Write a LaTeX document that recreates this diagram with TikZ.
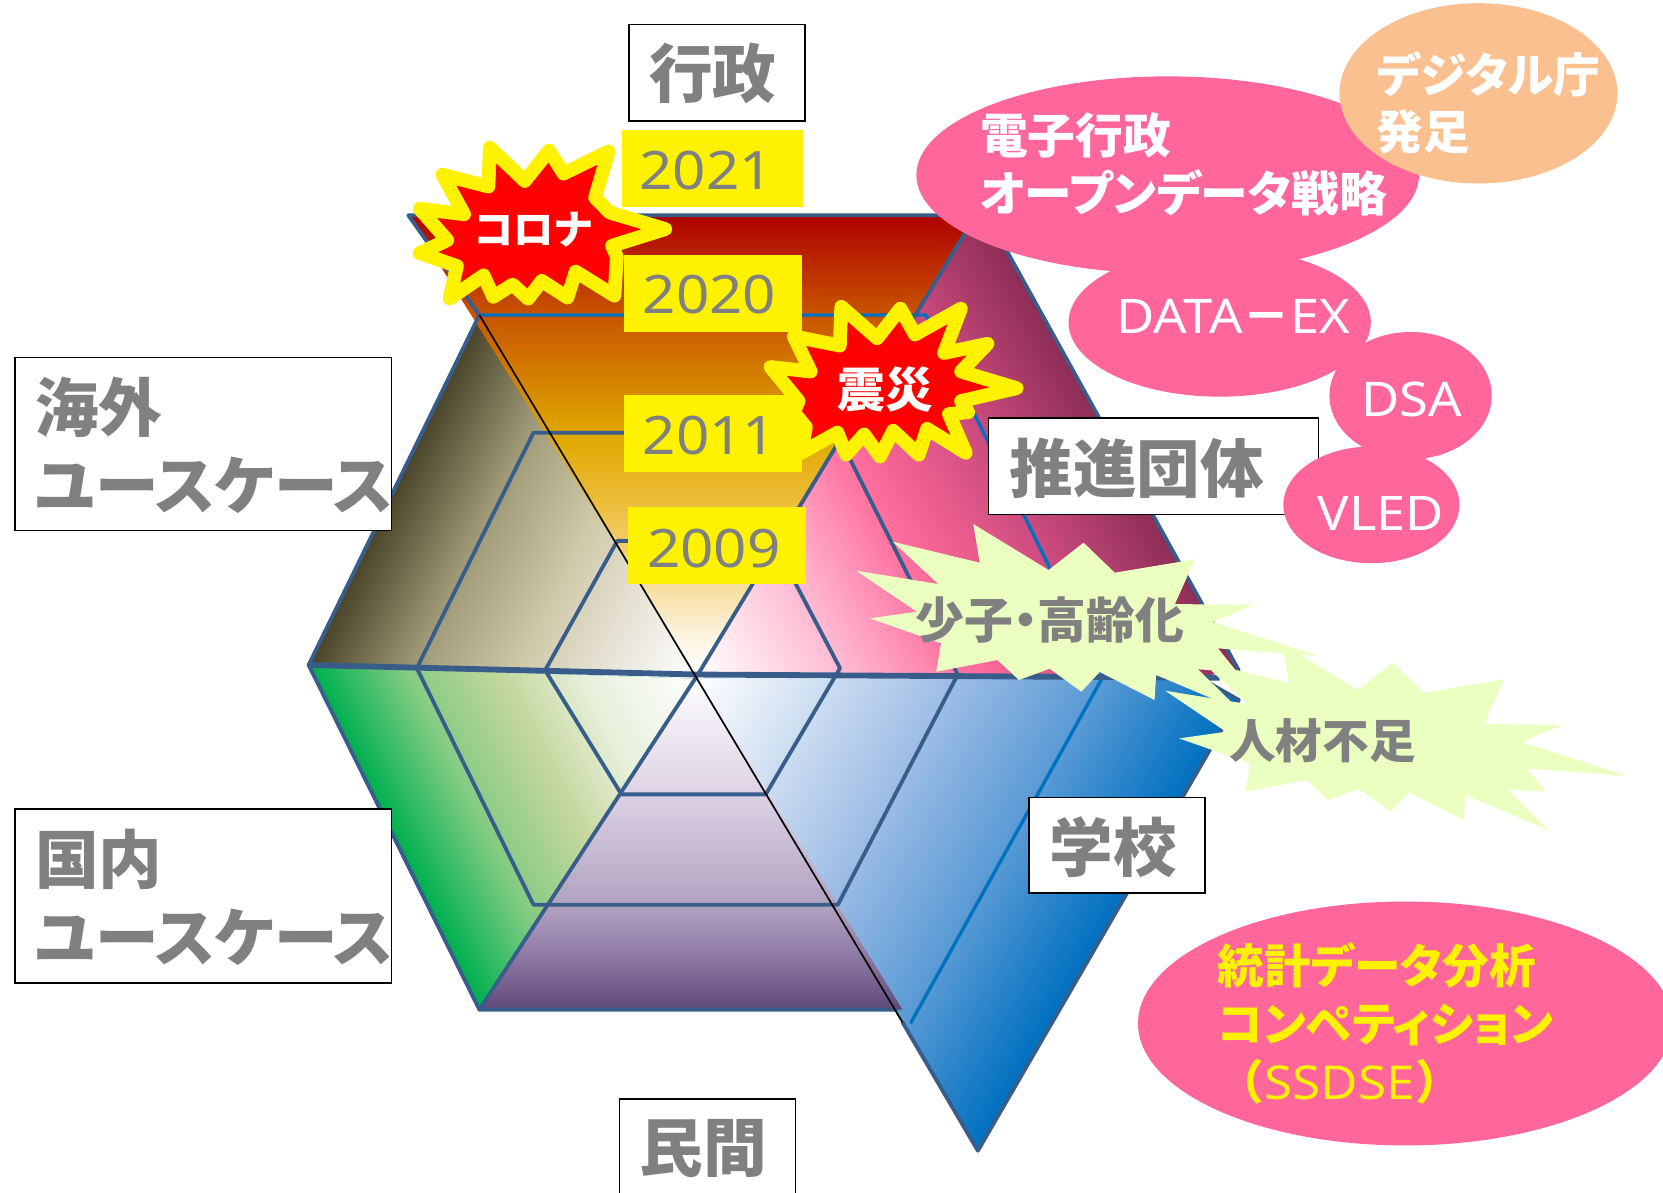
\documentclass[tikz,border=0pt]{standalone}
\usepackage{fontspec}
\newfontfamily\jp{Noto Sans CJK JP}
\newfontfamily\jpp[RawFeature={+palt}]{Noto Sans CJK JP}
\newfontfamily\latn[FakeStretch=1.1]{Noto Sans}
\definecolor{edgeb}{HTML}{385D8A}
\definecolor{edgec}{HTML}{0070C0}
\definecolor{txg}{HTML}{808080}
\definecolor{pk}{HTML}{FF6699}
\definecolor{peach}{HTML}{FAC090}
\definecolor{burstc}{HTML}{EBFFC0}
\definecolor{r1}{HTML}{B00000}\definecolor{r2}{HTML}{C85600}\definecolor{r3}{HTML}{E0A800}\definecolor{r4}{HTML}{ECBC38}\definecolor{r5}{HTML}{F7DC9A}\definecolor{r6}{HTML}{FDF5E2}
\definecolor{u1}{HTML}{604A7B}\definecolor{u2}{HTML}{8D78A3}\definecolor{u3}{HTML}{AF9FBF}\definecolor{u4}{HTML}{DDD3E5}\definecolor{u5}{HTML}{F8F5FA}
\definecolor{b1}{HTML}{E4E0D2}\definecolor{b2}{HTML}{CFC9A9}\definecolor{b3}{HTML}{A09A78}\definecolor{b4}{HTML}{4A452A}
\definecolor{g1}{HTML}{E8F0DC}\definecolor{g2}{HTML}{C3D69B}\definecolor{g3}{HTML}{86CC84}\definecolor{g4}{HTML}{00B050}
\definecolor{l1}{HTML}{D5E3F3}\definecolor{l2}{HTML}{A0BEE6}\definecolor{l3}{HTML}{5B9BD5}\definecolor{l4}{HTML}{0070C0}
\definecolor{p1}{HTML}{FFB5CF}\definecolor{p2}{HTML}{FF6F9F}\definecolor{p3}{HTML}{EE5F90}\definecolor{p4}{HTML}{C4477A}\definecolor{p5}{HTML}{8C2D56}
\pgfdeclareverticalshading{topsh}{100bp}{color(0bp)=(white);color(25bp)=(white);color(29bp)=(r6);color(35bp)=(r5);color(44bp)=(r4);color(51bp)=(r3);color(64bp)=(r2);color(75bp)=(r1);color(100bp)=(r1)}
\pgfdeclareverticalshading{botsh}{100bp}{color(0bp)=(u1);color(25bp)=(u1);color(33bp)=(u2);color(40bp)=(u3);color(58bp)=(u4);color(72bp)=(u5);color(75bp)=(white);color(100bp)=(white)}
\pgfdeclarehorizontalshading{brownsh}{100bp}{color(0bp)=(white);color(25bp)=(white);color(38.5bp)=(b1);color(48bp)=(b2);color(61.5bp)=(b3);color(75bp)=(b4);color(100bp)=(b4)}
\pgfdeclarehorizontalshading{greensh}{100bp}{color(0bp)=(white);color(25bp)=(white);color(40bp)=(g1);color(51bp)=(g2);color(62.5bp)=(g3);color(75bp)=(g4);color(100bp)=(g4)}
\pgfdeclarehorizontalshading{bluesh}{100bp}{color(0bp)=(white);color(25bp)=(white);color(35bp)=(l1);color(48bp)=(l2);color(61.5bp)=(l3);color(75bp)=(l4);color(100bp)=(l4)}
\pgfdeclarehorizontalshading{pinksh}{100bp}{color(0bp)=(white);color(25bp)=(white);color(39.5bp)=(p1);color(50bp)=(p2);color(55bp)=(p3);color(65bp)=(p4);color(75bp)=(p5);color(100bp)=(p5)}
\newcommand{\sidegrad}[3]{\begin{scope}[transform canvas={shift={(658,636)},rotate=#2}]\shade[shading=#1] (0,-800) rectangle (#3,800);\end{scope}}
\newcommand{\cloudpath}{(285,432)--(425,570)--(490,488)--(548,578)--(697,538)--(660,672)--(805,675)--(730,726)--(928,828)--(740,805)--(775,875)--(703,868)--(780,990)--(625,885)--(622,960)--(520,876)--(486,935)--(427,866)--(370,900)--(330,840)--(216,875)--(225,790)--(93,715)--(180,695)--(67,572)--(220,612)--(135,485)--(297,548)--cycle}
\tikzset{
 ringb/.style={draw=edgeb,line width=3.6pt,line join=round,line cap=round},
 ringc/.style={draw=edgec,line width=3.2pt,line join=round,line cap=round},
 yearbox/.style={fill=yellow,draw=none},
 yeartxt/.style={text=txg,font=\fontsize{50}{60}\selectfont\latn\bfseries,inner sep=0pt},
 labelbox/.style={draw=black,fill=white,line width=1.4pt},
 labeltxt/.style={text=txg,font=\fontsize{60}{73}\selectfont\jp\bfseries,inner sep=0pt,align=left},
 bang/.style={fill=red,draw=yellow,line width=13pt,line join=round},
 pinkell/.style={ellipse,fill=pk,draw=none,inner sep=0pt},
}
\usetikzlibrary{shapes.geometric}
\begin{document}
\begin{tikzpicture}[x=1pt,y=-1pt]
\useasboundingbox (0,0) rectangle (1568,1124);
\clip (0,0) rectangle (1568,1124);
\fill[white] (0,0) rectangle (1568,1124);
% named vertices
\coordinate (C) at (658,636);
\coordinate (TL) at (385,203); \coordinate (TR) at (920,203); \coordinate (TRb) at (949,236);
\coordinate (R) at (1168,632); \coordinate (Rb) at (1168,660);
\coordinate (UL) at (452,297); \coordinate (L) at (291,627); \coordinate (LL) at (452,952);
\coordinate (LR) at (851,964); \coordinate (B) at (922,1085);
% sectors
\begin{scope}\clip (L)--(UL)--(C)--cycle; \fill[b4] (L)--(UL)--(C)--cycle; \sidegrad{brownsh}{154}{334} \end{scope}
\begin{scope}\clip (291,628)--(LL)--(658,640)--cycle; \fill[g4] (291,628)--(LL)--(658,640)--cycle; \sidegrad{greensh}{206.6}{324} \end{scope}
\begin{scope}\clip (C)--(TR)--(TRb)--(R)--(1130,638)--cycle; \fill[p5] (C)--(TR)--(TRb)--(R)--(1130,638)--cycle; \sidegrad{pinksh}{29}{448} \end{scope}
\begin{scope}\clip (658,640)--(1133,640)--(Rb)--(B)--cycle; \fill[l4] (658,640)--(1133,640)--(Rb)--(B)--cycle; \sidegrad{bluesh}{-30}{452} \end{scope}
\shade[shading=topsh] (TL)--(TR)--(C)--cycle;
\shade[shading=botsh] (658,640)--(LR|-LL)--(LL)--cycle;
\shade[shading=botsh] (658,640)--(845,952)--(LL)--cycle;
% rings
\draw[ringc] (UL)--(873,297)--(1040,638)--(859,964);
\draw[ringb] (393,630)--(503,408)--(789,408)--(903,636)--(790,853)--(503,853)--cycle;
\draw[ringb] (514,632)--(582,510)--(729,510)--(792,630)--(722,749)--(586,749)--cycle;
% outer edges
\draw[ringb] (TL)--(UL) (UL)--(L)--(LL)--(845,952);
\draw[ringb] (TL)--(TR)--(C)--(LL);
\draw[ringb] (TRb)--(R) (1133,640)--(Rb)--(B)--(LR);
\draw[draw=edgeb,line width=5.5pt,line join=round] (L)--(658,636)--(1150,639);
\draw[black,line width=1.6pt] (UL)--(LR);
% year boxes
\node[yearbox,minimum width=171pt,minimum height=72pt,inner sep=0pt] (y21b) at (671.5,159) {};
\node[yearbox,minimum width=168pt,minimum height=73pt,inner sep=0pt] (y20b) at (672,276.5) {};
\node[yearbox,minimum width=168pt,minimum height=73pt,inner sep=0pt] (y11b) at (672,408.5) {};
\node[yearbox,minimum width=168pt,minimum height=73pt,inner sep=0pt] (y09b) at (676,514.5) {};
\node[yeartxt] (y21) at (666,161) {2021};
\node[yeartxt] (y20) at (669,278) {2020};
\node[yeartxt] (y11) at (669,411) {2011};
\node[yeartxt] (y09) at (673,517) {2009};
% red bursts
\begin{scope}[shift={(264,113.1)},x=.457pt,y=-.3488pt]
\draw[bang] (433,75)--(505,165)--(555,83)--(585,145)--(678,85)--(650,210)--(680,250)--(795,295)--(685,340)--(695,370)--(690,475)--(610,410)--(593,480)--(540,435)--(512,483)--(480,445)--(440,478)--(420,420)--(350,483)--(365,395)--(288,360)--(345,325)--(288,240)--(380,255)--(335,148)--(430,180)--cycle;
\draw[bang] (1158,505)--(1232,590)--(1280,510)--(1310,580)--(1405,510)--(1370,630)--(1460,605)--(1405,680)--(1520,725)--(1405,760)--(1420,790)--(1380,795)--(1415,900)--(1335,835)--(1318,905)--(1265,840)--(1238,910)--(1205,850)--(1168,905)--(1150,845)--(1075,900)--(1085,830)--(1060,790)--(1070,760)--(1012,668)--(1095,680)--(1060,585)--(1155,610)--cycle;
\end{scope}
\node[text=white,font=\fontsize{38}{46}\selectfont\jp\bfseries,inner sep=0pt] (corona) at (503,217) {コロナ};
\node[text=white,font=\fontsize{45}{54}\selectfont\jp\bfseries,inner sep=0pt] (quake) at (835,367) {震災};
% ellipses
\node[pinkell,minimum width=474pt,minimum height=186pt] (e1) at (1101,165) {};
\node[pinkell,minimum width=285pt,minimum height=140pt] (e2) at (1150,304) {};
\node[pinkell,minimum width=153pt,minimum height=120pt] (e3) at (1330,373) {};
\node[ellipse,fill=peach,draw=none,inner sep=0pt,minimum width=262pt,minimum height=170pt] (e0) at (1394,88) {};
\node[pinkell,minimum width=504pt,minimum height=230pt] (e5) at (1325,965) {};
\node[anchor=west,text=white,font=\fontsize{44}{54}\selectfont\jpp\bfseries,inner sep=0pt,align=left] (t0) at (1298,97) {デジタル庁\\発足};
\node[anchor=west,text=white,font=\fontsize{45}{55}\selectfont\jpp\bfseries,inner sep=0pt,align=left] (t1) at (924,155) {電子行政\\オープンデータ戦略};
\node[text=white,font=\fontsize{45}{54}\selectfont\latn\bfseries,inner sep=0pt] (t2) at (1163,298) {DATA{\jpp－}EX};
\node[text=white,font=\fontsize{45}{54}\selectfont\latn\bfseries,inner sep=0pt] (t3) at (1331,377) {DSA};
\node[anchor=west,text=yellow,font=\fontsize{44}{54.5}\selectfont\jpp\bfseries,inner sep=0pt,align=left] (t5) at (1148,965) {統計データ分析\\コンペティション\\{\jp（}{\latn SSDSE}{\jp）}};
% pale bursts
\begin{scope}[shift={(773.2,358.3)},x=.507pt,y=-.3143pt]
\fill[burstc] \cloudpath;
\end{scope}
\begin{scope}[shift={(1064.7,471.5)},x=.507pt,y=-.3143pt]
\fill[burstc] \cloudpath;
\end{scope}
\node[text=txg,font=\fontsize{46}{55}\selectfont\jpp\bfseries,inner sep=0pt] (aging) at (990,585) {少子・高齢化};
\node[text=txg,font=\fontsize{44}{53}\selectfont\jp\bfseries,inner sep=0pt] (lack) at (1247,698) {人材不足};
% label boxes
\node[labelbox,minimum width=166pt,minimum height=91pt,inner sep=0pt] (gyo) at (676,68.5) {};
\node[labeltxt] (gyot) at (672,69) {行政};
\node[labelbox,minimum width=355pt,minimum height=163pt,inner sep=0pt] (kai) at (191.5,418.5) {};
\node[labeltxt,anchor=west] (kait) at (33,420) {海外\\{\jpp ユースケース}};
\node[labelbox,minimum width=355pt,minimum height=164pt,inner sep=0pt] (koku) at (191.5,845) {};
\node[labeltxt,anchor=west] (kokut) at (33,846) {国内\\{\jpp ユースケース}};
\node[labelbox,minimum width=311pt,minimum height=91pt,inner sep=0pt] (sui) at (1087.5,439.5) {};
\node[labeltxt] (suit) at (1072,441) {推進団体};
\node[labelbox,minimum width=166pt,minimum height=90pt,inner sep=0pt] (gak) at (1053,797) {};
\node[labeltxt] (gakt) at (1050,799) {学校};
\node[labelbox,minimum width=166pt,minimum height=100pt,inner sep=0pt] (min) at (667,1086) {};
\node[labeltxt] (mint) at (663,1083) {民間};
% VLED over the box
\node[pinkell,minimum width=166pt,minimum height=110pt] (e4) at (1293,476) {};
\node[text=white,font=\fontsize{45}{54}\selectfont\latn\bfseries,inner sep=0pt] (t4) at (1302,484) {VLED};
\end{tikzpicture}
\end{document}
